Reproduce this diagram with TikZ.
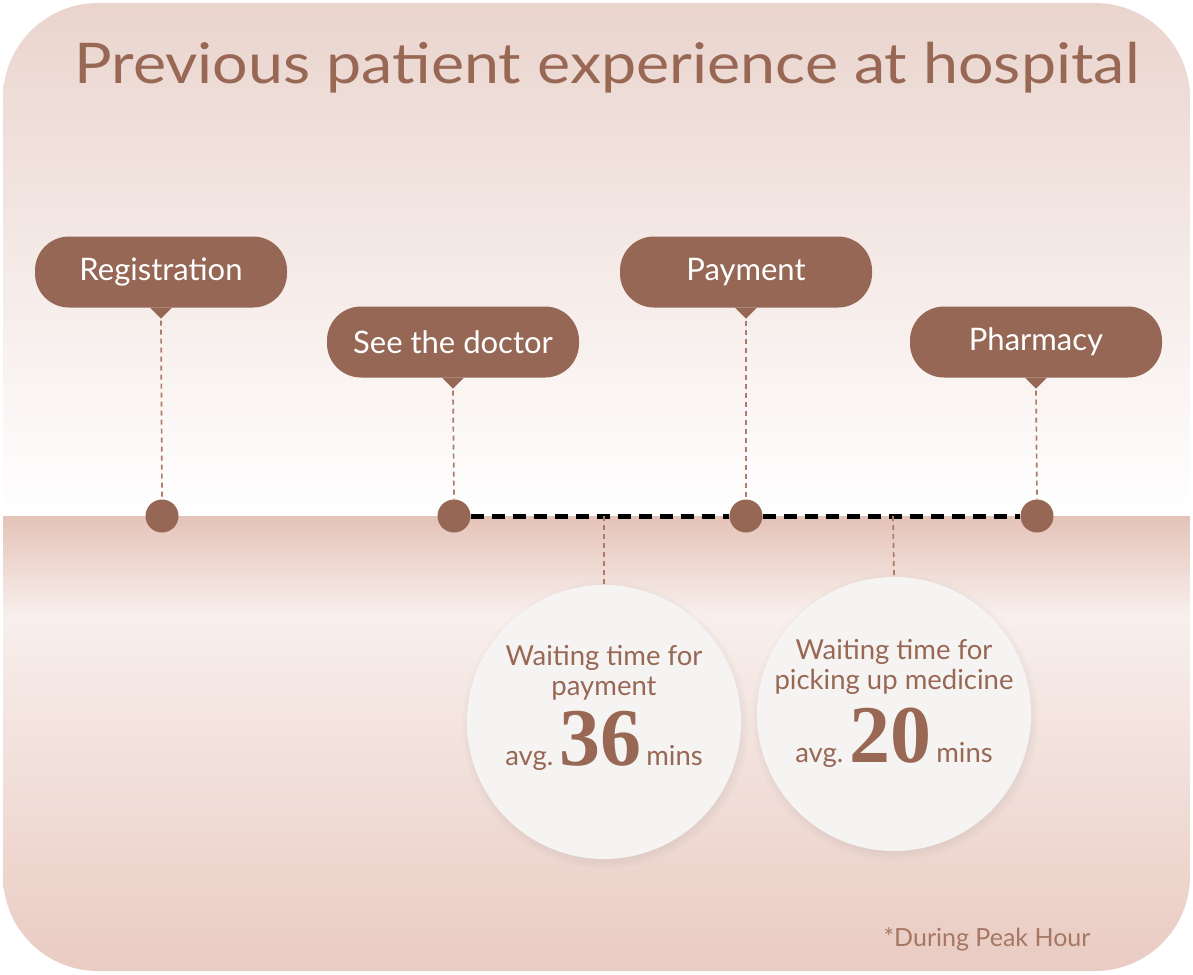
\documentclass[tikz,border=0pt]{standalone}
\usepackage{fontspec}
\setmainfont{Lato}
\newfontfamily\numfont{Liberation Serif}
\usepackage{tikz}
\usetikzlibrary{positioning, calc, shadows}
\definecolor{mybrown}{RGB}{149,103,84}
\definecolor{mytext}{RGB}{152,104,84}
\definecolor{mypin}{RGB}{172,124,104}
\definecolor{mynote}{RGB}{166,120,100}
\definecolor{bgtop}{RGB}{234,212,205}
\definecolor{bgmid}{RGB}{245,234,231}
\definecolor{bgline}{RGB}{228,195,184}
\definecolor{bglow}{RGB}{248,239,236}
\definecolor{bgfoot}{RGB}{233,203,194}
\definecolor{bubble}{RGB}{246,244,243}
\newcommand{\bignum}[1]{{\numfont\bfseries\fontsize{82}{82}\selectfont #1}}
\tikzset{
  stage/.style={rectangle, fill=mybrown, text=white, rounded corners=34pt,
    minimum width=252pt, minimum height=71pt, inner sep=0pt,
    font=\fontsize{31}{34}\selectfont},
  stopdot/.style={circle, fill=mybrown, minimum size=33pt, inner sep=0pt},
  pinline/.style={mypin, line width=1.7pt, dash pattern=on 5pt off 4pt},
  waitline/.style={black, line width=5pt, dash pattern=on 13pt off 8pt},
  bubblecirc/.style={circle, fill=bubble, minimum size=274pt, inner sep=0pt,
    circular drop shadow={shadow xshift=1pt, shadow yshift=-3pt, shadow scale=1.05, opacity=0.25}},
  waittext/.style={text=mytext, align=center, inner sep=0pt,
    font=\fontsize{27.5}{30}\selectfont}
}

\begin{document}
\begin{tikzpicture}[x=1pt, y=-1pt]
  \useasboundingbox (0,0) rectangle (1193,974);

  % Background
  \begin{scope}
    \clip[rounded corners=95pt] (3,3) rectangle (1190,971);
    \shade[top color=bgtop, middle color=bgmid, bottom color=white] (0,0) rectangle (1193,516);
    \shade[top color=bgline, bottom color=bglow] (0,516) rectangle (1193,615);
    \shade[top color=bglow, bottom color=bgfoot] (0,615) rectangle (1193,974);
  \end{scope}

  % Title
  \node[text=mytext, font=\fontsize{55}{60}\selectfont, inner sep=0pt, anchor=base] (title) at (607,83) {\scalebox{1.14}[1.02]{Previous patient experience at hospital}};

  % Stages
  \node[stage] (reg) at (161,272) {Registration};
  \node[stage] (doc) at (453,342) {See the doctor};
  \node[stage] (pay) at (746,272) {Payment};
  \node[stage] (pha) at (1036,342) {Pharmacy};
  \foreach \n in {reg,doc,pay,pha}
    \fill[mybrown] ([xshift=-11pt]\n.south) -- ([yshift=-11pt]\n.south) -- ([xshift=11pt]\n.south) -- cycle;

  % Timeline dots
  \node[stopdot] (dreg) at (162,516) {};
  \node[stopdot] (ddoc) at (454,516) {};
  \node[stopdot] (dpay) at (746,516) {};
  \node[stopdot] (dpha) at (1037,516) {};

  \draw[pinline] ([yshift=-13pt]reg.south) -- (dreg.north);
  \draw[pinline] ([yshift=-13pt]doc.south) -- (ddoc.north);
  \draw[pinline] ([yshift=-13pt]pay.south) -- (dpay.north);
  \draw[pinline] ([yshift=-13pt]pha.south) -- (dpha.north);

  % Waiting span
  \draw[waitline] (ddoc.east) -- (dpay.west);
  \draw[waitline] (dpay.east) -- (dpha.west);
  \coordinate (mpay) at (604,516);
  \coordinate (mmed) at (893,516);

  % Waiting bubbles
  \node[bubblecirc] (waitpay) at (604,722) {};
  \node[bubblecirc] (waitmed) at (894,714) {};
  \draw[pinline] (mpay) -- (waitpay.north);
  \draw[pinline] (mmed) -- (waitmed.north);

  \node[waittext] (paytop) at ([yshift=49pt]waitpay.center) {Waiting time for\\payment};
  \node[waittext, anchor=base] (paynum) at ([yshift=-43pt]waitpay.center) {avg.\hspace{6pt}\bignum{36}\hspace{5pt}mins};
  \node[waittext] (medtop) at ([yshift=47pt]waitmed.center) {Waiting time for\\picking up medicine};
  \node[waittext, anchor=base] (mednum) at ([yshift=-48pt]waitmed.center) {avg.\hspace{6pt}\bignum{20}\hspace{5pt}mins};

  % Note
  \node[text=mynote, font=\fontsize{25}{27}\selectfont, inner sep=0pt, anchor=base] (note) at (987,946) {*During Peak Hour};
\end{tikzpicture}
\end{document}
